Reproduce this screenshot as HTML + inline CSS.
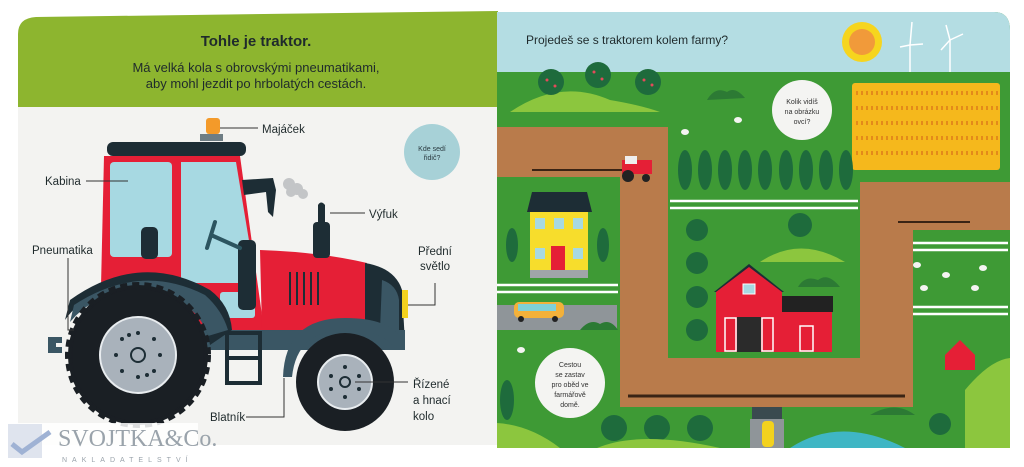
<!DOCTYPE html>
<html><head><meta charset="utf-8"><style>
html,body{margin:0;padding:0;background:#fff;}
svg{display:block;font-family:"Liberation Sans",sans-serif;}
</style></head><body>
<svg width="1024" height="467" viewBox="0 0 1024 467" xmlns="http://www.w3.org/2000/svg">
<rect width="1024" height="467" fill="#ffffff"/>
<path d="M18 445 V34 Q18 18 36 17 L498 11 V445 Z" fill="#f3f3f1"/>
<path d="M18 107 V34 Q18 18 36 17 L498 11 V107 Z" fill="#8db52f"/>
<text x="256" y="46" font-size="15" font-weight="bold" fill="#1f2a2c" text-anchor="middle">Tohle je traktor.</text>
<text x="256" y="72" font-size="13" fill="#1f2a2c" text-anchor="middle">Má velká kola s obrovskými pneumatikami,</text>
<text x="256" y="88" font-size="13" fill="#1f2a2c" text-anchor="middle">aby mohl jezdit po hrbolatých cestách.</text>
<g>
<rect x="206" y="118" width="14" height="16" rx="3" fill="#f39a2a"/>
<rect x="200" y="134" width="23" height="7" fill="#6e7d84"/>
<rect x="107" y="142" width="139" height="14" rx="6" fill="#1d2d35"/>
<path d="M48 337 h14 v6 h-6 v4 h6 v6 h-14 z" fill="#3a5664"/>
<path d="M104 156 L240 156 L264 330 L100 330 Z" fill="#e51f36"/>
<rect x="110" y="162" width="62" height="95" rx="4" fill="#a7d9e2"/>
<path d="M181 162 L236 162 L256 283 L181 283 Z" fill="#a7d9e2"/>
<rect x="220" y="292" width="35" height="26" rx="3" fill="#a7d9e2"/>
<rect x="141" y="227" width="17" height="32" rx="5" fill="#1d2d35"/>
<rect x="238" y="240" width="18" height="70" rx="5" fill="#1d2d35"/>
<path d="M215 222 L207 248 M211 235 L240 248" stroke="#2c5560" stroke-width="4" fill="none" stroke-linecap="round"/>
<path d="M242 180 L273 178 L276 190 L273 217 L268 212 L266 192 L244 195 Z" fill="#1d2d35"/>
<path d="M260 250 Q320 252 367 263 L370 330 L262 330 Z" fill="#e51f36"/>
<g stroke="#1d2d35" stroke-width="2"><line x1="290" y1="272" x2="290" y2="305"/><line x1="297" y1="272" x2="297" y2="305"/><line x1="304" y1="272" x2="304" y2="305"/><line x1="311" y1="272" x2="311" y2="305"/><line x1="318" y1="272" x2="318" y2="305"/></g>
<path d="M365 263 Q395 268 402 290 L405 343 L365 343 Z" fill="#1d2d35"/>
<path d="M382 280 Q397 285 399 300 L399 330 L380 330 Z" fill="#3a5664"/>
<rect x="402" y="290" width="6" height="28" fill="#f3d21e"/>
<rect x="313" y="222" width="17" height="36" rx="4" fill="#1d2d35"/>
<path d="M318 222 V205 Q321 200 325 205 V222 Z" fill="#1d2d35"/>
<g fill="#c3c5c7"><circle cx="289" cy="184" r="6"/><circle cx="297" cy="189" r="6"/><circle cx="303" cy="194" r="5"/><circle cx="291" cy="192" r="5"/></g>
<rect x="200" y="330" width="205" height="20" fill="#3a5664"/>
<rect x="227" y="333" width="33" height="50" fill="none" stroke="#1d2d35" stroke-width="4"/>
<line x1="227" y1="358" x2="260" y2="358" stroke="#1d2d35" stroke-width="4"/>
<path d="M70 300 Q140 250 210 290 Q230 305 232 330 L210 345 Q200 290 138 285 Q90 285 65 320 Z" fill="#1d2d35"/>
<path d="M74 305 Q140 262 205 295 Q222 310 228 330 L208 336 Q195 295 138 292 Q95 292 70 322 Z" fill="#3a5664"/>
<circle cx="138" cy="355" r="70" fill="#1a1f24" stroke="#1a1f24" stroke-width="6" stroke-dasharray="7 5"/>
<circle cx="138" cy="355" r="66" fill="#1a1f24"/>
<circle cx="138" cy="355" r="38" fill="#a9b2bb" stroke="#e8ecef" stroke-width="2"/>
<circle cx="138" cy="355" r="7" fill="none" stroke="#1d2d35" stroke-width="2"/>
<g fill="#1d2d35"><circle cx="138" cy="333" r="2"/><circle cx="138" cy="377" r="2"/><circle cx="116" cy="355" r="2"/><circle cx="160" cy="355" r="2"/><circle cx="122" cy="339" r="2"/><circle cx="154" cy="339" r="2"/><circle cx="122" cy="371" r="2"/><circle cx="154" cy="371" r="2"/><circle cx="129" cy="335" r="2"/><circle cx="147" cy="375" r="2"/></g>
<path d="M283 377 Q285 318 345 318 Q400 318 405 350 L395 350 Q385 330 345 330 Q297 330 292 377 Z" fill="#3a5664"/>
<circle cx="345" cy="382" r="49" fill="#1a1f24"/>
<circle cx="345" cy="382" r="27" fill="#a9b2bb" stroke="#e8ecef" stroke-width="2"/>
<circle cx="345" cy="382" r="5" fill="none" stroke="#1d2d35" stroke-width="2"/>
<g fill="#1d2d35"><circle cx="345" cy="367" r="2"/><circle cx="345" cy="397" r="2"/><circle cx="331" cy="376" r="2"/><circle cx="359" cy="376" r="2"/><circle cx="331" cy="389" r="2"/><circle cx="359" cy="389" r="2"/></g>
</g>
<g stroke="#333" stroke-width="1" fill="none">
<line x1="220" y1="128" x2="258" y2="128"/>
<line x1="86" y1="181" x2="128" y2="181"/>
<line x1="330" y1="213" x2="365" y2="213"/>
<path d="M68 258 V330 H74"/>
<path d="M435 283 V305 H408"/>
<line x1="355" y1="382" x2="408" y2="382"/>
<path d="M246 417 H284 V378"/>
</g>
<g font-size="11.5" fill="#1f2a2c">
<text x="262" y="133">Majáček</text>
<text x="45" y="185">Kabina</text>
<text x="369" y="218">Výfuk</text>
<text x="32" y="254">Pneumatika</text>
<text x="418" y="255">Přední</text>
<text x="420" y="270">světlo</text>
<text x="413" y="388">Řízené</text>
<text x="413" y="404">a hnací</text>
<text x="413" y="420">kolo</text>
<text x="210" y="421">Blatník</text>
</g>
<circle cx="432" cy="152" r="28" fill="#a7d1d7"/>
<text x="432" y="151" font-size="7" fill="#2a3a40" text-anchor="middle">Kde sedí</text>
<text x="432" y="160" font-size="7" fill="#2a3a40" text-anchor="middle">řidič?</text>
<rect x="6" y="423" width="192" height="44" fill="#ffffff" opacity="0.85"/>
<rect x="8" y="424" width="34" height="34" fill="#dfe4ee"/>
<path d="M12 444 L22 452 L50 432" stroke="#9fb2d4" stroke-width="5" fill="none"/>
<text x="58" y="446" font-size="24" fill="#9aa3ab" font-family="Liberation Serif,serif">SVOJTKA&amp;Co.</text>
<text x="62" y="462" font-size="7" fill="#9aa3ab" letter-spacing="5">NAKLADATELSTVÍ</text>

<path d="M497 12 H994 Q1010 12 1010 30 V448 H497 Z" fill="#3e9a35"/>
<path d="M497 12 H994 Q1010 12 1010 30 V72 H497 Z" fill="#b4dde3"/>
<text x="526" y="44" font-size="12" fill="#1f2a2c">Projedeš se s traktorem kolem farmy?</text>
<circle cx="862" cy="42" r="20" fill="#f6d51e"/>
<circle cx="862" cy="42" r="13" fill="#f19a3a"/>
<g stroke="#fff" stroke-width="1.5" fill="none">
<line x1="910" y1="45" x2="910" y2="72"/><path d="M910 45 L900 47 M910 45 L923 44 M910 45 L912 22"/>
<line x1="950" y1="40" x2="950" y2="72"/><path d="M950 40 L941 50 M950 40 L963 34 M950 40 L946 25"/>
</g>
<path d="M510 112 Q560 78 610 100 Q640 105 660 112 Z" fill="#8cc63e"/>
<path d="M707 100 Q715 86 727 92 Q735 86 745 98 Z" fill="#2c7a34"/>
<circle cx="551" cy="82" r="13" fill="#1e6b3c"/><circle cx="598" cy="75" r="13" fill="#1e6b3c"/><circle cx="648" cy="82" r="13" fill="#1e6b3c"/>
<g fill="#e5495a"><circle cx="547" cy="80" r="1.5"/><circle cx="555" cy="86" r="1.5"/><circle cx="594" cy="72" r="1.5"/><circle cx="602" cy="79" r="1.5"/><circle cx="644" cy="80" r="1.5"/><circle cx="652" cy="85" r="1.5"/></g>
<rect x="852" y="83" width="148" height="87" rx="3" fill="#f5b81c"/>
<g stroke="#e38a1a" stroke-width="4" stroke-dasharray="2 3">
<line x1="856" y1="93" x2="998" y2="93"/><line x1="856" y1="108" x2="998" y2="108"/><line x1="856" y1="123" x2="998" y2="123"/><line x1="856" y1="138" x2="998" y2="138"/><line x1="856" y1="153" x2="998" y2="153"/>
</g>
<path d="M497 127 H668 V358 H860 V182 H1010 V230 H913 V407 H620 V177 H497 Z" fill="#b97b4b"/>
<line x1="628" y1="396" x2="905" y2="396" stroke="#3a2415" stroke-width="3"/>
<line x1="532" y1="170" x2="625" y2="170" stroke="#3a2415" stroke-width="2"/>
<line x1="898" y1="222" x2="970" y2="222" stroke="#3a2415" stroke-width="2"/>
<rect x="622" y="160" width="30" height="14" fill="#e51f36"/><rect x="625" y="156" width="12" height="8" fill="#eee"/>
<circle cx="628" cy="176" r="6" fill="#222"/><circle cx="646" cy="178" r="4" fill="#222"/>
<circle cx="802" cy="110" r="30" fill="#f4f4f2"/>
<g font-size="7" fill="#333" text-anchor="middle"><text x="802" y="104">Kolik vidíš</text><text x="802" y="114">na obrázku</text><text x="802" y="124">ovcí?</text></g>
<g fill="#1e6b3c">
<ellipse cx="685" cy="170" rx="7" ry="20"/><ellipse cx="705" cy="170" rx="7" ry="20"/><ellipse cx="725" cy="170" rx="7" ry="20"/><ellipse cx="745" cy="170" rx="7" ry="20"/><ellipse cx="765" cy="170" rx="7" ry="20"/><ellipse cx="786" cy="170" rx="7" ry="20"/><ellipse cx="806" cy="170" rx="7" ry="20"/><ellipse cx="826" cy="170" rx="7" ry="20"/><ellipse cx="846" cy="170" rx="7" ry="20"/>
</g>
<g stroke="#fff" stroke-width="2.5"><line x1="670" y1="201" x2="858" y2="201"/><line x1="670" y1="208" x2="858" y2="208"/></g>
<g stroke="#fff" stroke-width="2.5"><line x1="913" y1="243" x2="1008" y2="243"/><line x1="913" y1="250" x2="1008" y2="250"/><line x1="913" y1="307" x2="1008" y2="307"/><line x1="913" y1="314" x2="1008" y2="314"/></g>
<g fill="#1e6b3c"><circle cx="697" cy="230" r="11"/><circle cx="697" cy="263" r="11"/><circle cx="697" cy="297" r="11"/><circle cx="697" cy="330" r="11"/><circle cx="800" cy="225" r="12"/></g>
<path d="M760 262 Q800 235 845 262 Z" fill="#8cc63e"/>
<path d="M798 287 Q805 275 818 280 Q828 272 840 287 Z" fill="#2c7a34"/>
<path d="M714 292 L749 264 L784 292 Z" fill="#1d2d35"/>
<path d="M716 292 L749 267 L782 292 V352 H716 Z" fill="#e51f36"/>
<rect x="782" y="296" width="51" height="16" fill="#222"/>
<rect x="782" y="312" width="50" height="40" fill="#e51f36"/>
<rect x="737" y="317" width="24" height="35" fill="#2b2b2b"/>
<rect x="725" y="318" width="11" height="33" fill="none" stroke="#fff" stroke-width="1.5"/>
<rect x="762" y="318" width="11" height="33" fill="none" stroke="#fff" stroke-width="1.5"/>
<rect x="800" y="326" width="13" height="25" fill="none" stroke="#fff" stroke-width="1.5"/>
<rect x="743" y="284" width="12" height="10" fill="#a7d9e2" stroke="#fff"/>
<path d="M527 212 L532 192 H587 L592 212 Z" fill="#1d2d35"/>
<rect x="530" y="212" width="58" height="58" fill="#f7dd2c"/>
<rect x="530" y="270" width="58" height="8" fill="#a0a5a8"/>
<rect x="551" y="246" width="14" height="24" fill="#e51f36"/>
<g fill="#a7d9e2"><rect x="535" y="218" width="10" height="11"/><rect x="554" y="218" width="10" height="11"/><rect x="573" y="218" width="10" height="11"/><rect x="535" y="248" width="10" height="11"/><rect x="573" y="248" width="10" height="11"/></g>
<ellipse cx="512" cy="245" rx="6" ry="17" fill="#1e6b3c"/><ellipse cx="603" cy="245" rx="6" ry="17" fill="#1e6b3c"/>
<g stroke="#fff" stroke-width="2.5"><line x1="497" y1="285" x2="618" y2="285"/><line x1="497" y1="292" x2="618" y2="292"/></g>
<rect x="497" y="305" width="120" height="25" fill="#8f9599"/>
<rect x="514" y="302" width="50" height="16" rx="5" fill="#f3b13a"/><rect x="518" y="304" width="38" height="7" fill="#7fd0d8"/>
<circle cx="521" cy="319" r="3" fill="#222"/><circle cx="555" cy="319" r="3" fill="#222"/>
<path d="M580 330 Q590 318 600 324 Q610 318 618 330 Z" fill="#2c7a34"/>
<circle cx="570" cy="383" r="35" fill="#f4f4f2"/>
<g font-size="7" fill="#333" text-anchor="middle"><text x="570" y="367">Cestou</text><text x="570" y="377">se zastav</text><text x="570" y="387">pro oběd ve</text><text x="570" y="397">farmářově</text><text x="570" y="407">domě.</text></g>
<ellipse cx="507" cy="400" rx="7" ry="20" fill="#1e6b3c"/>
<path d="M497 448 V423 Q530 425 560 448 Z" fill="#8cc63e"/>
<g fill="#1e6b3c"><circle cx="614" cy="428" r="13"/><circle cx="657" cy="428" r="13"/><circle cx="700" cy="428" r="13"/><circle cx="940" cy="424" r="11"/></g>
<path d="M597 448 Q640 430 720 448 Z" fill="#8cc63e"/>
<rect x="752" y="407" width="30" height="12" fill="#3a4a4f"/>
<rect x="750" y="419" width="34" height="29" fill="#8f9599"/>
<rect x="762" y="421" width="12" height="26" rx="4" fill="#f3d21e"/>
<path d="M790 448 Q840 415 905 448 Z" fill="#3fb6c4"/>
<path d="M965 448 V390 Q990 360 1010 358 V448 Z" fill="#8cc63e"/>
<path d="M870 415 Q895 400 915 415 Z" fill="#2c7a34"/>
<g fill="#f4f4f2"><ellipse cx="685" cy="132" rx="4" ry="3"/><ellipse cx="738" cy="120" rx="4" ry="3"/><ellipse cx="917" cy="265" rx="4" ry="3"/><ellipse cx="946" cy="275" rx="4" ry="3"/><ellipse cx="983" cy="268" rx="4" ry="3"/><ellipse cx="924" cy="288" rx="4" ry="3"/><ellipse cx="975" cy="288" rx="4" ry="3"/><ellipse cx="521" cy="350" rx="4" ry="3"/></g>
<path d="M945 355 L960 340 L975 355 V370 H945 Z" fill="#e51f36"/>
</svg>
</body></html>
